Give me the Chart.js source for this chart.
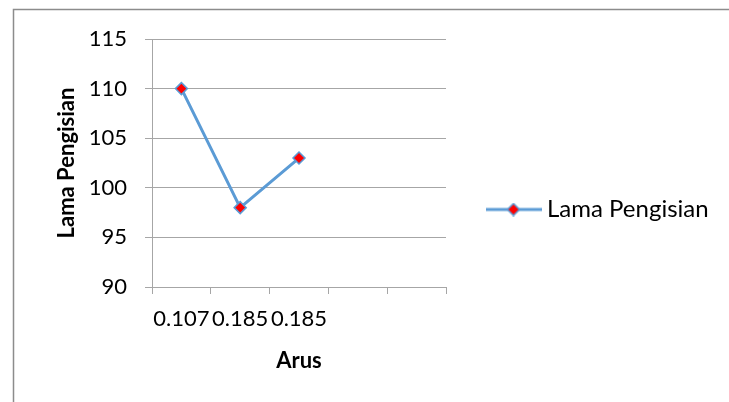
<!DOCTYPE html>
<html>
<head>
<meta charset="utf-8">
<script src="https://cdn.jsdelivr.net/npm/chart.js@4/dist/chart.umd.min.js"></script>
<style>
  html, body { margin: 0; padding: 0; background: #fff; }
  #wrap { width: 729px; height: 402px; }
</style>
</head>
<body>
<div id="wrap"><canvas id="chart" width="729" height="402"></canvas></div>
<script>
// Categories (Arus) and the charging time series
const arusLabels = ['0.107', '0.185', '0.185', '', ''];
const lamaPengisian = [110, 98, 103, null, null];
const yTicks = { min: 90, max: 115, step: 5 };

const LINE_BLUE = '#5b9bd5';
const GRID_GREY = '#a6a6a6';
const FONT = 'Lato, "Open Sans", sans-serif';

// Legend icon: short blue line with the red diamond marker
function legendIcon() {
    const c = document.createElement('canvas');
    c.width = 56;
    c.height = 14;
    const g = c.getContext('2d');
    g.strokeStyle = LINE_BLUE;
    g.lineWidth = 3;
    g.beginPath();
    g.moveTo(0, 7);
    g.lineTo(56, 7);
    g.stroke();
    g.beginPath();
    g.moveTo(28, 1);
    g.lineTo(34, 7);
    g.lineTo(28, 13);
    g.lineTo(22, 7);
    g.closePath();
    g.fillStyle = '#ff0000';
    g.fill();
    g.lineWidth = 1.5;
    g.stroke();
    return c;
}

// Outer frame of the chart object
const framePlugin = {
    id: 'frame',
    beforeDraw(chart) {
        const ctx = chart.ctx;
        ctx.save();
        ctx.strokeStyle = '#8c8c8c';
        ctx.lineWidth = 1.5;
        ctx.strokeRect(13.5, 9.5, 900, 600);
        ctx.restore();
    }
};

// Keep the legend box at a fixed width so the plot area ends where it should
const legendWidthPlugin = {
    id: 'legendWidth',
    beforeLayout(chart) {
        const legend = chart.legend;
        if (!legend || legend._fixed) return;
        const fit = legend.fit;
        legend.fit = function () {
            fit.call(this);
            this.width = 283;
        };
        legend._fixed = true;
    }
};

const icon = legendIcon();

new Chart(document.getElementById('chart'), {
    type: 'line',
    data: {
        labels: arusLabels,
        datasets: [{
            label: 'Lama Pengisian',
            data: lamaPengisian,
            borderColor: LINE_BLUE,
            borderWidth: 3,
            tension: 0,
            pointStyle: 'rectRot',
            pointRadius: 6,
            pointBackgroundColor: '#ff0000',
            pointBorderColor: LINE_BLUE,
            pointBorderWidth: 1.5,
            fill: false
        }]
    },
    options: {
        responsive: false,
        animation: false,
        events: [],
        layout: { padding: { top: 39, left: 0, right: 0, bottom: 22 } },
        scales: {
            x: {
                type: 'category',
                offset: true,
                afterFit(scale) { scale.height = 93; },
                grid: {
                    offset: true,
                    drawOnChartArea: false,
                    drawTicks: true,
                    tickLength: 7,
                    color: GRID_GREY
                },
                border: { color: GRID_GREY, width: 1 },
                ticks: {
                    color: '#000',
                    font: { family: FONT, size: 22 },
                    padding: 12,
                    maxRotation: 0,
                    autoSkip: false
                },
                title: {
                    display: true,
                    text: 'Arus',
                    color: '#000',
                    font: { family: FONT, size: 22, weight: 'bold' },
                    padding: { top: 0, bottom: 6 }
                }
            },
            y: {
                min: yTicks.min,
                max: yTicks.max,
                afterFit(scale) { scale.width = 152; },
                grid: {
                    color: GRID_GREY,
                    drawTicks: true,
                    tickLength: 7
                },
                border: { color: GRID_GREY, width: 1 },
                ticks: {
                    stepSize: yTicks.step,
                    color: '#000',
                    font: { family: FONT, size: 22 },
                    padding: 18
                },
                title: {
                    display: true,
                    text: 'Lama Pengisian',
                    color: '#000',
                    font: { family: FONT, size: 22, weight: 'bold' },
                    padding: { top: 54, bottom: 0 }
                }
            }
        },
        plugins: {
            legend: {
                display: true,
                position: 'right',
                labels: {
                    usePointStyle: true,
                    pointStyle: icon,
                    pointStyleWidth: 43,
                    padding: 46,
                    color: '#000',
                    font: { family: FONT, size: 24 },
                    generateLabels(chart) {
                        const ds = chart.data.datasets[0];
                        return [{
                            text: ds.label,
                            pointStyle: icon,
                            fillStyle: '#ff0000',
                            strokeStyle: LINE_BLUE,
                            lineWidth: 0,
                            fontColor: '#000',
                            datasetIndex: 0,
                            hidden: false
                        }];
                    }
                }
            },
            tooltip: { enabled: false },
            title: { display: false }
        }
    },
    plugins: [framePlugin, legendWidthPlugin]
});
</script>
</body>
</html>
